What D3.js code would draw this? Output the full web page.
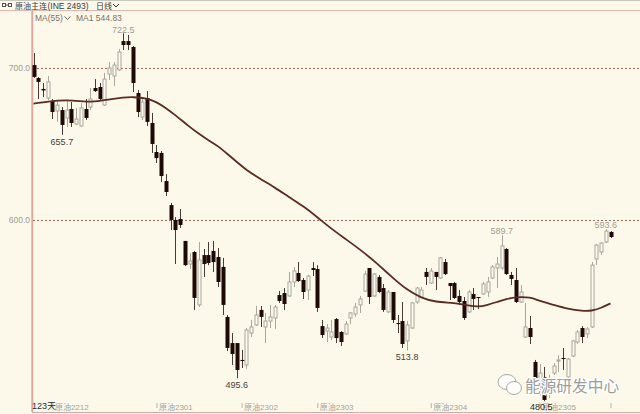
<!DOCTYPE html>
<html lang="zh">
<head>
    <meta charset="UTF-8">
    <title>原油主连</title>
    <script src="https://cdn.jsdelivr.net/npm/d3@7"></script>
    <style>
        html, body { margin: 0; padding: 0; background: #fdf9ea; overflow: hidden; }
        svg { display: block; }
        text { font-family: "Liberation Sans", "Noto Sans CJK SC", sans-serif; }
        .domain { display: none; }
    </style>
</head>
<body>
<div id="chart"></div>
<script>
    // daily candles
    var opens = [701.6,693.1,685.9,679.9,678.0,671.4,672.0,666.8,672.7,662.8,661.5,672.7,674.0,686.5,687.2,675.3,695.7,694.4,698.4,717.4,717.4,713.5,683.2,667.4,679.9,
        663.5,644.4,643.8,625.3,609.5,599.7,600.3,585.9,570.7,578.6,543.8,576.6,576.6,579.3,575.3,568.8,535.9,518.7,518.7,507.6,504.3,525.3,530.6,540.5,529.3,
        533.2,535.2,550.3,551.6,549.7,558.9,564.8,560.2,553.6,568.1,567.4,529.9,526.6,522.7,534.5,526.0,524.7,535.2,537.8,543.8,552.9,568.1,549.7,562.2,554.9,
        539.2,552.3,531.9,533.2,520.1,528.6,545.7,549.0,565.5,558.2,565.5,561.5,572.0,558.2,558.2,549.7,546.4,539.2,551.0,549.0,551.0,552.3,561.5,568.1,568.1,
        580.6,563.5,560.2,545.7,522.7,528.6,506.3,489.8,496.4,487.8,499.0,506.9,508.9,496.4,510.2,519.4,528.6,524.7,529.3,574.0,578.6,585.2,591.8];
    var highs = [709.5,693.8,689.8,694.4,679.3,677.3,674.0,678.0,677.3,673.4,676.6,679.3,686.5,692.4,689.8,696.4,703.6,703.6,712.2,722.5,721.4,714.1,685.2,679.9,684.5,
        670.1,649.0,645.1,629.9,610.9,601.6,606.9,585.9,577.9,579.3,585.2,580.6,585.2,585.9,581.2,574.7,537.2,525.3,518.7,514.2,528.6,533.9,543.1,543.1,538.5,
        543.8,543.8,553.0,554.9,565.5,568.8,572.0,561.5,563.5,572.0,570.0,533.9,531.2,533.9,535.2,526.6,533.2,539.1,545.1,549.7,566.1,568.1,564.8,563.5,557.6,
        553.6,552.3,537.2,545.7,533.2,545.7,555.6,555.6,568.1,568.1,565.5,575.3,574.0,558.2,558.9,553.6,549.0,553.6,554.9,549.0,558.9,562.2,570.0,575.3,589.7,
        581.2,565.5,568.1,556.9,545.1,536.5,507.6,504.9,503.0,497.7,505.6,510.8,515.5,508.9,520.7,527.3,529.9,529.3,572.0,583.9,585.2,593.6,592.4];
    var lows = [693.1,679.3,680.6,678.6,666.1,664.2,655.7,660.9,660.9,662.2,661.0,665.5,672.0,683.9,678.6,674.7,691.8,687.8,697.7,711.5,711.5,683.9,667.4,665.5,661.5,
        643.8,637.2,624.7,615.5,593.1,570.7,594.4,569.4,567.4,540.5,542.4,562.2,570.0,565.5,555.6,537.2,513.5,504.3,495.6,502.3,501.7,522.7,529.9,529.3,518.7,
        528.6,528.0,545.1,540.5,549.0,555.6,558.9,547.7,547.0,562.8,539.2,522.0,519.4,520.7,518.7,516.8,524.0,531.2,535.9,538.5,552.3,544.4,549.0,551.6,539.2,
        538.5,531.9,525.3,515.5,513.8,528.0,544.4,548.4,556.9,557.6,553.6,560.9,563.5,547.0,547.7,543.8,533.9,538.5,540.5,541.1,550.3,549.0,560.9,554.9,566.8,
        563.5,556.9,545.1,545.1,522.0,518.1,494.4,484.5,480.5,482.6,497.7,499.7,501.0,495.7,509.5,518.1,518.7,522.0,528.6,570.0,576.6,584.5,587.8];
    var closes = [693.8,690.5,684.9,690.5,670.7,675.3,662.2,672.0,663.5,666.1,673.4,666.8,679.3,684.5,679.3,692.4,699.7,701.6,710.2,714.8,714.8,689.8,670.7,677.3,664.2,
        649.7,640.4,628.6,618.1,599.7,593.1,596.4,570.0,572.7,548.4,573.4,570.7,571.4,572.0,558.9,543.8,515.5,511.5,501.0,506.9,527.3,529.3,537.2,535.9,533.2,
        535.9,542.4,546.4,544.4,558.9,566.1,559.5,552.3,562.8,566.8,541.8,524.0,528.6,526.0,522.0,519.4,531.2,538.5,542.4,547.7,564.1,549.0,564.1,552.3,540.5,
        552.3,533.9,531.3,518.1,530.6,545.1,554.9,553.6,562.2,566.1,562.2,574.7,564.1,556.2,548.4,545.7,535.2,552.3,547.7,548.4,557.6,558.9,568.8,570.7,582.6,
        564.1,560.9,545.7,552.3,529.3,522.7,495.7,499.0,481.3,494.4,503.6,507.6,508.2,508.2,520.1,526.0,522.7,528.0,570.0,583.2,584.5,592.4,588.5];

    // MA(55), read at these candle positions
    var maIndex = [0,6,8,12,14,16,19,21,24,26,28,30,33,35,37,39,41,43,45,48,51,54,57,60,63,66,70,73,76,79,82,85,89,92,94,96,98,100,102,105,107,110,113,116,118,120,122];
    var maValues = [676.3,678.6,678.3,677.3,678.0,679.0,680.3,680.6,679.9,677.3,673.4,668.7,660.9,656.3,652.0,648.4,643.1,637.8,632.5,626.6,621.1,614.8,608.9,601.6,593.8,587.2,578.0,570.1,561.5,553.6,548.4,545.7,545.1,543.4,542.4,543.8,545.7,547.7,549.0,549.0,546.4,543.8,541.1,539.8,539.8,541.8,544.8];

    var monthIndex = [4,26,44,60,84,107];
    var monthLabels = ["原油2212","原油2301","原油2302","原油2303","原油2304","原油2305"];
    var priceTicks = [700,600];

    // high / low marks printed on the chart
    var markIndex = [19,6,43,79,99,121,108];
    var markValues = [722.5,655.7,495.6,513.8,589.7,593.6,480.5];

    var width = 640, height = 414;
    var svg = d3.select("#chart").append("svg")
        .attr("width", width).attr("height", height);

    svg.append("rect").attr("width", width).attr("height", height).attr("fill", "#fdf9ea");

    var x = d3.scaleLinear().domain([0, 122]).range([33.5, 610.5]);
    var y = d3.scaleLinear().domain([600, 700]).range([219.5, 67.5]);

    // frame
    svg.append("line").attr("x1", 0).attr("x2", width).attr("y1", 0.5).attr("y2", 0.5).attr("stroke", "#c9c6bb");
    svg.append("line").attr("x1", 0).attr("x2", width).attr("y1", 10.5).attr("y2", 10.5).attr("stroke", "#e2b9ac");
    svg.append("line").attr("x1", 32.3).attr("x2", 32.3).attr("y1", 11).attr("y2", 412).attr("stroke", "#dba99f").attr("stroke-width", 2);
    svg.append("line").attr("x1", 32).attr("x2", width).attr("y1", 412.5).attr("y2", 412.5).attr("stroke", "#dba99f");

    // y axis with the dashed levels
    var yAxis = svg.append("g")
        .attr("transform", "translate(33,0)")
        .call(d3.axisLeft(y).tickValues(priceTicks).tickFormat(d3.format(".1f")).tickSize(0).tickPadding(3));
    yAxis.selectAll("text").attr("fill", "#9a9a92").style("font-size", "8.5px")
        .style("font-family", "'Liberation Sans', sans-serif");
    yAxis.selectAll(".tick").append("line")
        .attr("x1", 0).attr("x2", width - 33).attr("y1", 0.5).attr("y2", 0.5)
        .attr("stroke", "#a5685c").attr("stroke-dasharray", "2,2");

    // month axis
    var xAxis = svg.append("g")
        .attr("transform", "translate(0,403)")
        .call(d3.axisBottom(x).tickValues(monthIndex.concat([122]))
            .tickFormat(function (d) { return monthLabels[monthIndex.indexOf(d)] || ""; })
            .tickSize(5).tickPadding(0));
    xAxis.selectAll("line").attr("stroke", "#b5b2a8");
    xAxis.selectAll("text")
        .attr("text-anchor", "start").attr("x", 2).attr("y", 1)
        .attr("fill", "#a3a3a0").style("font-size", "8px")
        .style("font-family", "'Liberation Sans', 'Noto Sans CJK SC', sans-serif");

    // candles
    var candles = svg.append("g").selectAll("g")
        .data(d3.range(opens.length))
        .enter().append("g")
        .attr("transform", function (i) { return "translate(" + (Math.round(x(i)) + 0.5) + ",0)"; });

    candles.append("line")
        .attr("y1", function (i) { return y(highs[i]); })
        .attr("y2", function (i) { return y(lows[i]); })
        .attr("stroke", function (i) { return closes[i] < opens[i] ? "#4a3a35" : "#a9a69c"; });

    candles.append("rect")
        .attr("x", function (i) { return closes[i] < opens[i] ? -2 : -1.5; })
        .attr("width", function (i) { return closes[i] < opens[i] ? 4 : 3; })
        .attr("y", function (i) { return y(Math.max(opens[i], closes[i])); })
        .attr("height", function (i) { return Math.max(1, Math.abs(y(opens[i]) - y(closes[i]))); })
        .attr("fill", function (i) { return closes[i] < opens[i] ? "#1e0906" : "#fdfaf0"; })
        .attr("stroke", function (i) { return closes[i] < opens[i] ? "none" : "#a9a69c"; });

    // MA line
    var maLine = d3.line()
        .x(function (d, i) { return x(maIndex[i]); })
        .y(function (d) { return y(d); })
        .curve(d3.curveBasis);
    svg.append("path").datum(maValues)
        .attr("d", maLine)
        .attr("fill", "none")
        .attr("stroke", "#5b2b22")
        .attr("stroke-width", 1.8);

    // high / low labels
    var markColor = ["#9c9c94", "#45403c", "#45403c", "#45403c", "#9c9c94", "#9c9c94", "#2c2a28"];
    svg.append("g").selectAll("text")
        .data(markValues)
        .enter().append("text")
        .attr("x", function (d, i) { return x(markIndex[i]); })
        .attr("y", function (d) { return y(d); })
        .attr("dy", function (d, i) { return [-0.5, 10, 10, 9.5, -1, -1, 9][i]; })
        .attr("dx", function (d, i) { return i == 6 ? -3 : 0; })
        .attr("text-anchor", "middle")
        .attr("fill", function (d, i) { return markColor[i]; })
        .style("font-size", "9px")
        .text(function (d) { return d.toFixed(1); });

    // header
    var icon = svg.append("g").attr("fill", "none").attr("stroke", "#555");
    icon.append("rect").attr("x", 2.5).attr("y", 3.5).attr("width", 3).attr("height", 3);
    icon.append("rect").attr("x", 8.5).attr("y", 3.5).attr("width", 3).attr("height", 3);
    icon.append("line").attr("x1", 5.5).attr("x2", 8.5).attr("y1", 5).attr("y2", 5);

    function label(txt, px, py, size, color) {
        return svg.append("text").attr("x", px).attr("y", py)
            .attr("fill", color).style("font-size", size + "px").text(txt);
    }
    function chevron(px, py, color) {
        svg.append("path")
            .attr("d", "M" + px + "," + py + "l3,3l3,-3")
            .attr("fill", "none").attr("stroke", color).attr("stroke-width", 1);
    }
    label("原油主连", 15, 8.5, 8, "#3a3a3a");
    label("(INE 2493)", 47.5, 8.5, 8.5, "#3a3a3a");
    label("日线", 96, 8.5, 8, "#3a3a3a");
    chevron(113, 4, "#333");
    label("MA(55)", 35, 20.5, 8.5, "#7d6f66");
    chevron(64.5, 16.5, "#6b5d55");
    label("MA1  544.83", 76, 20.5, 8.5, "#7d6f66");
    label("123天", 32, 408.5, 9, "#2b2b3d");

    // watermark
    var mark = svg.append("g").attr("stroke", "#a9a9a4").attr("fill", "#fffefa").attr("stroke-width", 1);
    mark.append("ellipse").attr("cx", 507).attr("cy", 382).attr("rx", 9).attr("ry", 7.5);
    mark.append("ellipse").attr("cx", 514).attr("cy", 388).attr("rx", 7.5).attr("ry", 6.5);
    svg.append("text").attr("x", 525).attr("y", 392)
        .attr("fill", "#9d9d98").attr("stroke", "#ffffff").attr("stroke-width", 2.5).attr("paint-order", "stroke")
        .style("font-family", "'Noto Sans CJK SC', sans-serif").style("font-size", "15.7px")
        .text("能源研发中心");
</script>
</body>
</html>
